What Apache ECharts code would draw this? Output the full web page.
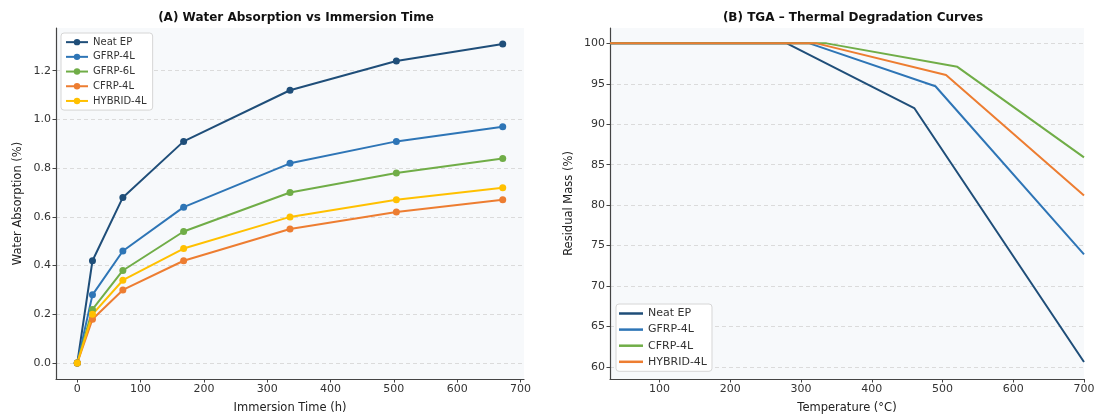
<!DOCTYPE html>
<html><head><meta charset="utf-8">
<script src="https://cdn.jsdelivr.net/npm/echarts@6/dist/echarts.min.js"></script>
<style>html,body{margin:0;padding:0;background:#fff}#c{width:1099px;height:416px}</style>
</head><body><div id="c"></div>
<script>
// ---- Panel A: water absorption ----
const hours = [0, 24, 72, 168, 336, 504, 672];
const absNeatEP   = [0, 0.42, 0.68, 0.91, 1.12, 1.24, 1.31];
const absGFRP4L   = [0, 0.28, 0.46, 0.64, 0.82, 0.91, 0.97];
const absGFRP6L   = [0, 0.22, 0.38, 0.54, 0.70, 0.78, 0.84];
const absCFRP4L   = [0, 0.18, 0.30, 0.42, 0.55, 0.62, 0.67];
const absHYBRID4L = [0, 0.20, 0.34, 0.47, 0.60, 0.67, 0.72];
const absXTicks = [0, 100, 200, 300, 400, 500, 600, 700];
const absYTicks = [0, 0.2, 0.4, 0.6, 0.8, 1.0, 1.2];

// ---- Panel B: TGA ----
const tgaTempNeatEP   = [30, 280, 460, 700];
const tgaMassNeatEP   = [100, 100, 92.0, 60.6];
const tgaTempGFRP4L   = [30, 312, 490, 700];
const tgaMassGFRP4L   = [100, 100, 94.7, 73.9];
const tgaTempCFRP4L   = [30, 336, 521, 700];
const tgaMassCFRP4L   = [100, 100, 97.1, 85.9];
const tgaTempHYBRID4L = [30, 322, 505, 700];
const tgaMassHYBRID4L = [100, 100, 96.1, 81.2];
const tgaXTicks = [100, 200, 300, 400, 500, 600, 700];
const tgaYTicks = [60, 65, 70, 75, 80, 85, 90, 95, 100];

const C = { navy: '#1f4e79', blue: '#2e75b6', green: '#70ad47', orange: '#ed7d31', yellow: '#ffc000' };
const FONT = 'DejaVu Sans';
const zip = (xs, ys) => xs.map((x, i) => [x, ys[i]]);

function axisCommon(ticks, fmt) {
  return {
    axisLine: { show: true, onZero: false, lineStyle: { color: '#444', width: 1.2 } },
    axisTick: { show: true, length: 3.5, inside: false, lineStyle: { color: '#444', width: 1 }, customValues: ticks },
    axisLabel: { color: '#333', fontFamily: FONT, fontSize: 11, margin: 5, customValues: ticks, formatter: fmt },
    splitLine: { show: false },
    nameTextStyle: { color: '#222', fontFamily: FONT, fontSize: 11.5 },
    nameLocation: 'middle'
  };
}
function yAxisCommon(ticks, fmt) {
  const a = axisCommon(ticks, fmt);
  a.splitLine = { show: true, lineStyle: { color: '#d3d3d3', width: 0.8, type: [4, 3] } };
  return a;
}

const absDefs = [
  ['Neat EP', absNeatEP, C.navy],
  ['GFRP-4L', absGFRP4L, C.blue],
  ['GFRP-6L', absGFRP6L, C.green],
  ['CFRP-4L', absCFRP4L, C.orange],
  ['HYBRID-4L', absHYBRID4L, C.yellow]
];
const absSeries = absDefs.map(([name, vals, color]) => ({
  name, type: 'line', xAxisIndex: 0, yAxisIndex: 0,
  data: zip(hours, vals),
  symbol: 'circle', symbolSize: 7, showSymbol: true,
  lineStyle: { width: 2, color }, itemStyle: { color },
  animation: false, emphasis: { disabled: true }
}));

const tgaDefs = [
  ['Neat EP', tgaTempNeatEP, tgaMassNeatEP, C.navy],
  ['GFRP-4L', tgaTempGFRP4L, tgaMassGFRP4L, C.blue],
  ['CFRP-4L', tgaTempCFRP4L, tgaMassCFRP4L, C.green],
  ['HYBRID-4L', tgaTempHYBRID4L, tgaMassHYBRID4L, C.orange]
];
const tgaSeries = tgaDefs.map(([name, xs, ys, color]) => ({
  name, type: 'line', xAxisIndex: 1, yAxisIndex: 1,
  data: zip(xs, ys),
  symbol: 'none', showSymbol: false,
  lineStyle: { width: 2, color }, itemStyle: { color },
  animation: false, emphasis: { disabled: true }
}));

const chart = echarts.init(document.getElementById('c'), null, { renderer: 'canvas' });
chart.setOption({
  backgroundColor: '#ffffff',
  animation: false,
  title: [
    { text: '(A) Water Absorption vs Immersion Time', left: 291, top: 7, textAlign: 'center',
      textStyle: { fontFamily: FONT, fontSize: 12, fontWeight: 'bold', color: '#111' } },
    { text: '(B) TGA – Thermal Degradation Curves', left: 848, top: 7, textAlign: 'center',
      textStyle: { fontFamily: FONT, fontSize: 12, fontWeight: 'bold', color: '#111' } }
  ],
  grid: [
    { left: 56, top: 28, width: 468, height: 351, show: true, backgroundColor: '#f7f9fb', borderWidth: 0, containLabel: false, outerBoundsMode: 'none' },
    { left: 610, top: 28, width: 474, height: 351, show: true, backgroundColor: '#f7f9fb', borderWidth: 0, containLabel: false, outerBoundsMode: 'none' }
  ],
  xAxis: [
    Object.assign(axisCommon(absXTicks, v => String(v)), { type: 'value', gridIndex: 0, min: -33.6, max: 705.6, name: 'Immersion Time (h)', nameGap: 23 }),
    Object.assign(axisCommon(tgaXTicks, v => String(v)), { type: 'value', gridIndex: 1, min: 30, max: 700, name: 'Temperature (°C)', nameGap: 23 })
  ],
  yAxis: [
    Object.assign(yAxisCommon(absYTicks, v => v.toFixed(1)), { type: 'value', gridIndex: 0, min: -0.0655, max: 1.3755, name: 'Water Absorption (%)', nameGap: 32 }),
    Object.assign(yAxisCommon(tgaYTicks, v => String(v)), { type: 'value', gridIndex: 1, min: 58.5, max: 101.9, name: 'Residual Mass (%)', nameGap: 35 })
  ],
  legend: [
    { data: absDefs.map(d => d[0]), orient: 'vertical', left: 61, top: 33,
      itemWidth: 22, itemHeight: 8, itemGap: 2.4, padding: [3, 6, 3, 4],
      backgroundColor: '#ffffff', borderColor: '#d6d6d6', borderWidth: 1, borderRadius: 3,
      textStyle: { fontFamily: FONT, fontSize: 10, color: '#333', lineHeight: 12.3 },
      selectedMode: false },
    { data: tgaDefs.map(d => ({ name: d[0], icon: 'rect', itemStyle: { color: d[3], borderWidth: 0 } })),
      orient: 'vertical', left: 616, top: 304,
      itemWidth: 24, itemHeight: 2.5, itemGap: 3.1, padding: [3, 5, 3, 3],
      backgroundColor: '#ffffff', borderColor: '#d6d6d6', borderWidth: 1, borderRadius: 3,
      textStyle: { fontFamily: FONT, fontSize: 11, color: '#333', lineHeight: 13 },
      selectedMode: false }
  ],
  series: absSeries.concat(tgaSeries)
});
</script>
</body></html>
